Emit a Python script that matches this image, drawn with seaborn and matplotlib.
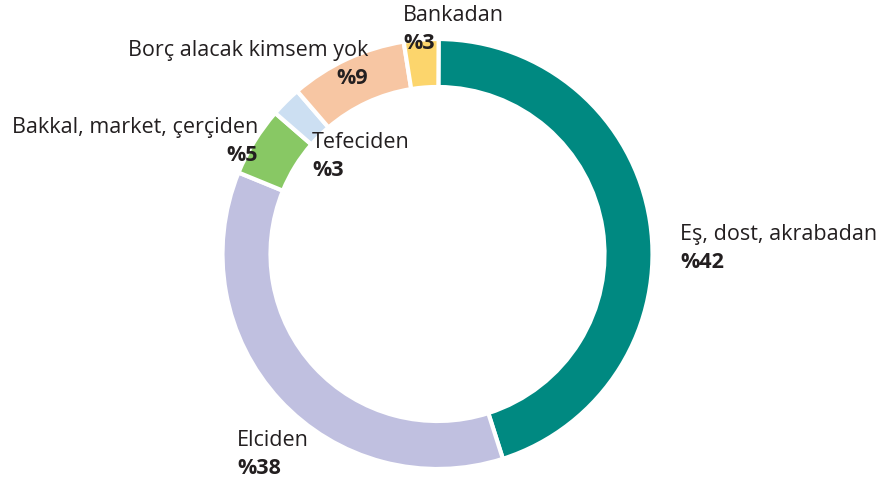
import matplotlib.pyplot as plt
import seaborn as sns

categories = [
    "Eş, dost, akrabadan",
    "Elciden",
    "Bakkal, market, çerçiden",
    "Tefeciden",
    "Borç alacak kimsem yok",
    "Bankadan",
]
pct_labels = ["%42", "%38", "%5", "%3", "%9", "%3"]
# arc sizes as they are drawn in the reference (not quite the printed numbers)
shares = [45.0, 36.1, 5.2, 2.3, 8.8, 2.6]
colors = ["#008981", "#C0C0E0", "#88C864", "#CCDFF2", "#F7C6A3", "#FCD56C"]

W, H = 884, 482
# label anchor (x, baseline y) in pixels from the top-left, and alignment
label_pos = [
    (680, 240, "left"),
    (237, 446, "left"),
    (258, 133, "right"),
    (312, 148, "left"),
    (368, 56, "right"),
    (403, 21, "left"),
]

sns.set_theme(style="white")
plt.rcParams["font.family"] = ["Open Sans", "DejaVu Sans"]

fig = plt.figure(figsize=(W / 100, H / 100), dpi=100)
ax = fig.add_axes([0, 0, 1, 1])

ax.pie(
    shares,
    colors=colors,
    center=(437.5, H - 254),
    radius=215,
    startangle=89.7,
    counterclock=False,
    wedgeprops=dict(width=48, edgecolor="white", linewidth=3),
    frame=True,
)
ax.set_xlim(0, W)
ax.set_ylim(0, H)
ax.set_aspect("equal")
ax.axis("off")

txt = "#231F20"
for name, pct, (x, y, ha) in zip(categories, pct_labels, label_pos):
    ax.text(x, H - y, name, ha=ha, va="baseline", fontsize=15.5, color=txt)
    ax.text(x, H - y - 28, pct, ha=ha, va="baseline", fontsize=15.5,
            fontweight="bold", color=txt)

fig.savefig("out.png", dpi=100)
